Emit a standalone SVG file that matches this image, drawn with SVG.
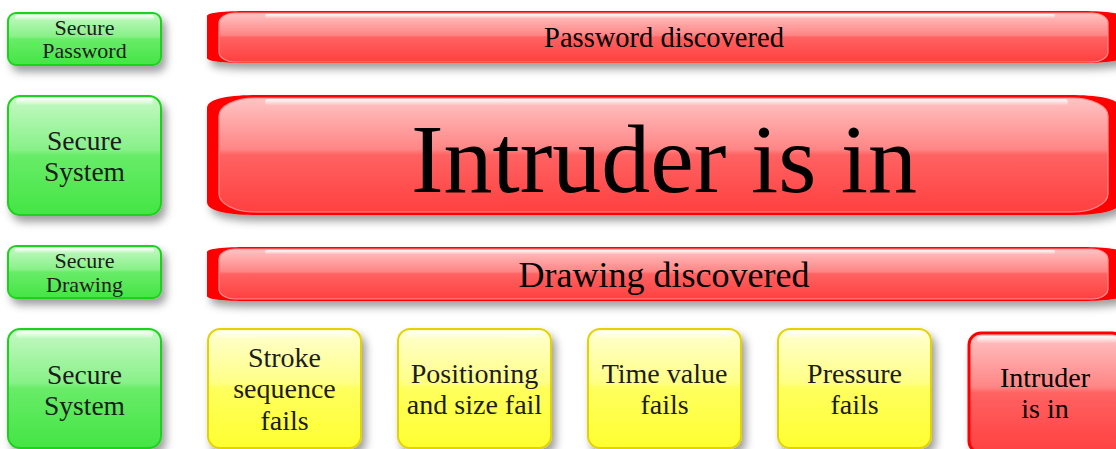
<svg xmlns="http://www.w3.org/2000/svg" width="1116" height="449" viewBox="0 0 1116 449">
  <defs>
    <filter id="shadow" x="-10%" y="-20%" width="130%" height="160%">
      <feDropShadow dx="4" dy="6" stdDeviation="4" flood-color="#000" flood-opacity="0.38"/>
    </filter>
    <linearGradient id="greenFill" x1="0" y1="0" x2="0" y2="1">
      <stop offset="0" stop-color="#c6f9c6"/>
      <stop offset="0.45" stop-color="#88f188"/>
      <stop offset="0.5" stop-color="#68ec68"/>
      <stop offset="1" stop-color="#44e544"/>
    </linearGradient>
    <linearGradient id="yellowFill" x1="0" y1="0" x2="0" y2="1">
      <stop offset="0" stop-color="#ffffd2"/>
      <stop offset="0.45" stop-color="#ffff86"/>
      <stop offset="0.5" stop-color="#ffff5e"/>
      <stop offset="1" stop-color="#ffff30"/>
    </linearGradient>
    <linearGradient id="redFill" x1="0" y1="0" x2="0" y2="1">
      <stop offset="0" stop-color="#ffc4c4"/>
      <stop offset="0.45" stop-color="#ff8585"/>
      <stop offset="0.5" stop-color="#ff6262"/>
      <stop offset="1" stop-color="#ff4040"/>
    </linearGradient>
    <linearGradient id="gloss" x1="0" y1="0" x2="0" y2="1">
      <stop offset="0" stop-color="#fff" stop-opacity="0.95"/>
      <stop offset="1" stop-color="#fff" stop-opacity="0.1"/>
    </linearGradient>
    <style>
      .green { fill: url(#greenFill); stroke: #1fd21f; stroke-width: 2; filter: url(#shadow); }
      .yellow { fill: url(#yellowFill); stroke: #e2d400; stroke-width: 2; filter: url(#shadow); }
      .redbox { fill: url(#redFill); stroke: #ff0000; stroke-width: 3; filter: url(#shadow); }
      .barOuter { fill: #ff0000; filter: url(#shadow); }
      .barInner { fill: url(#redFill); stroke: #ff9090; stroke-width: 1.2; }
      .gloss { fill: url(#gloss); }
      text { font-family: "Liberation Serif", "Times New Roman", serif; text-anchor: middle; }
      .dark { fill: #1c1c1c; }
      .black { fill: #000; }
    </style>
  </defs>

  <!-- left column: green status boxes -->
  <g id="secure-password">
    <rect class="green" x="8" y="13" width="153" height="52" rx="8"/>
    <rect class="gloss" x="15" y="15" width="139" height="5" rx="2.5"/>
    <text class="dark" x="84.5" y="35" font-size="22">Secure</text>
    <text class="dark" x="84.5" y="58" font-size="22">Password</text>
  </g>

  <g id="secure-system-1">
    <rect class="green" x="8" y="96" width="153" height="119" rx="12"/>
    <rect class="gloss" x="16" y="98" width="137" height="7" rx="3.5"/>
    <text class="dark" x="84.5" y="150" font-size="27.5">Secure</text>
    <text class="dark" x="84.5" y="181" font-size="27.5">System</text>
  </g>

  <g id="secure-drawing">
    <rect class="green" x="8" y="246" width="153" height="52" rx="8"/>
    <rect class="gloss" x="15" y="248" width="139" height="5" rx="2.5"/>
    <text class="dark" x="84.5" y="268" font-size="22">Secure</text>
    <text class="dark" x="84.5" y="292" font-size="22">Drawing</text>
  </g>

  <g id="secure-system-2">
    <rect class="green" x="8" y="329" width="153" height="119" rx="12"/>
    <rect class="gloss" x="16" y="331" width="137" height="7" rx="3.5"/>
    <text class="dark" x="84.5" y="384" font-size="27.5">Secure</text>
    <text class="dark" x="84.5" y="415" font-size="27.5">System</text>
  </g>

  <!-- red capsule bars -->
  <g id="password-discovered">
    <path class="barOuter" d="M207,16 C207,12 230,11 252,11 L1075,11 C1097,11 1120,12 1120,16 L1120,58 C1120,62 1097,63 1075,63 L252,63 C230,63 207,62 207,58 Z"/>
    <rect class="barInner" x="219" y="13" width="889" height="49" rx="16" ry="10"/>
    <rect class="gloss" x="265" y="14" width="790" height="4" rx="2"/>
    <text class="black" x="664" y="47" font-size="28.5">Password discovered</text>
  </g>

  <g id="intruder-is-in-bar">
    <path class="barOuter" d="M207,108 C207,98 232,95 257,95 L1070,95 C1095,95 1120,98 1120,108 L1120,202 C1120,212 1095,215 1070,215 L257,215 C232,215 207,212 207,202 Z"/>
    <rect class="barInner" x="219" y="98" width="889" height="114" rx="36" ry="18"/>
    <rect class="gloss" x="265" y="99" width="803" height="6" rx="3"/>
    <text class="black" x="664" y="192" font-size="98">Intruder is in</text>
  </g>

  <g id="drawing-discovered">
    <path class="barOuter" d="M207,252 C207,248 230,247 252,247 L1075,247 C1097,247 1120,248 1120,252 L1120,296 C1120,300 1097,301 1075,301 L252,301 C230,301 207,300 207,296 Z"/>
    <rect class="barInner" x="219" y="249" width="889" height="50" rx="16" ry="10"/>
    <rect class="gloss" x="265" y="250" width="790" height="4" rx="2"/>
    <text class="black" x="664" y="287" font-size="36">Drawing discovered</text>
  </g>

  <!-- bottom row: drawing checks -->
  <g id="stroke-sequence">
    <rect class="yellow" x="208" y="329" width="153" height="119" rx="12"/>
    <rect class="gloss" x="216" y="331" width="137" height="7" rx="3.5"/>
    <text class="dark" x="284.5" y="367" font-size="28">Stroke</text>
    <text class="dark" x="284.5" y="398" font-size="28">sequence</text>
    <text class="dark" x="284.5" y="430" font-size="28">fails</text>
  </g>

  <g id="positioning-size">
    <rect class="yellow" x="398" y="329" width="153" height="119" rx="12"/>
    <rect class="gloss" x="406" y="331" width="137" height="7" rx="3.5"/>
    <text class="dark" x="474.5" y="383" font-size="28">Positioning</text>
    <text class="dark" x="474.5" y="414" font-size="28">and size fail</text>
  </g>

  <g id="time-value">
    <rect class="yellow" x="588" y="329" width="153" height="119" rx="12"/>
    <rect class="gloss" x="596" y="331" width="137" height="7" rx="3.5"/>
    <text class="dark" x="664.5" y="383" font-size="28">Time value</text>
    <text class="dark" x="664.5" y="414" font-size="28">fails</text>
  </g>

  <g id="pressure">
    <rect class="yellow" x="778" y="329" width="153" height="119" rx="12"/>
    <rect class="gloss" x="786" y="331" width="137" height="7" rx="3.5"/>
    <text class="dark" x="854.5" y="383" font-size="28">Pressure</text>
    <text class="dark" x="854.5" y="414" font-size="28">fails</text>
  </g>

  <g id="intruder-is-in-box">
    <rect class="redbox" x="969" y="333" width="155" height="120" rx="12"/>
    <rect class="gloss" x="977" y="336" width="140" height="7" rx="3.5"/>
    <text class="black" x="1045" y="387" font-size="28">Intruder</text>
    <text class="black" x="1045" y="418" font-size="28">is in</text>
  </g>

  <!-- the boxes are laid out in rows; there are no connectors -->
  <g id="connectors"/>
</svg>
